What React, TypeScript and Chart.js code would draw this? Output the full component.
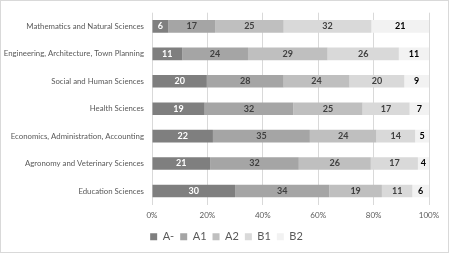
import React, { useEffect, useRef } from "react";
import { Chart, registerables } from "chart.js";

Chart.register(...registerables);

const categories = [
  "Mathematics and Natural Sciences",
  "Engineering, Architecture, Town Planning",
  "Social and Human Sciences",
  "Health Sciences",
  "Economics, Administration, Accounting",
  "Agronomy and Veterinary Sciences",
  "Education Sciences",
];
const seriesNames = ["A-", "A1", "A2", "B1", "B2"];
const aMinus = [6, 11, 20, 19, 22, 21, 30];
const a1 = [17, 24, 28, 32, 35, 32, 34];
const a2 = [25, 29, 24, 25, 24, 26, 19];
const b1 = [32, 26, 20, 17, 14, 17, 11];
const b2 = [21, 11, 9, 7, 5, 4, 6];
const xTicks = [0, 20, 40, 60, 80, 100];

const colors = ["#7f7f7f", "#a5a5a5", "#bfbfbf", "#d9d9d9", "#f2f2f2"];
const labelColors = ["#ffffff", "#404040", "#404040", "#404040", "#000000"];
const FONT = "Lato";

export default function App() {
  const ref = useRef<HTMLCanvasElement | null>(null);
  useEffect(() => {
    const raw = [aMinus, a1, a2, b1, b2];
    const totals = categories.map((_, i) => raw.reduce((s, arr) => s + arr[i], 0));
    const datasets = raw.map((arr, k) => ({
      label: seriesNames[k],
      data: arr.map((v, i) => (v / totals[i]) * 100),
      rawValues: arr,
      backgroundColor: colors[k],
      borderWidth: 0,
      categoryPercentage: 1,
      barPercentage: 0.46,
    }));

    const labelPlugin = {
      id: "valueLabels",
      afterDatasetsDraw(chart: any) {
        const ctx = chart.ctx;
        ctx.save();
        ctx.font = `bold 9px ${FONT}`;
        ctx.textAlign = "center";
        ctx.textBaseline = "middle";
        chart.data.datasets.forEach((ds: any, k: number) => {
          const meta = chart.getDatasetMeta(k);
          meta.data.forEach((el: any, i: number) => {
            const x = (el.x + el.base) / 2;
            ctx.fillStyle = labelColors[k];
            ctx.fillText(String(ds.rawValues[i]), x, el.y);
          });
        });
        ctx.restore();
      },
    };
    const framePlugin = {
      id: "frame",
      afterLayout(chart: any) {
        const lg = chart.legend;
        if (lg) {
          const right = lg.right;
          lg.left = 24;
          lg.width = right - 24;
        }
      },
      beforeDraw(chart: any) {
        const ctx = chart.ctx;
        ctx.save();
        ctx.fillStyle = "#ffffff";
        ctx.fillRect(0, 0, chart.width, chart.height);
        ctx.restore();
      },
      afterDraw(chart: any) {
        const ctx = chart.ctx;
        ctx.save();
        ctx.strokeStyle = "#d9d9d9";
        ctx.lineWidth = 1;
        ctx.strokeRect(0.5, 0.5, chart.width - 1, chart.height - 1);
        ctx.restore();
      },
    };

    const chart = new Chart(ref.current as HTMLCanvasElement, {
      type: "bar",
      data: { labels: categories, datasets: datasets as any },
      options: {
        indexAxis: "y",
        animation: false,
        responsive: false,
        layout: { padding: { top: 10.6, right: 20, bottom: 0.8, left: 0 } },
        scales: {
          x: {
            stacked: true,
            min: 0,
            max: 100,
            afterBuildTicks: (scale: any) => {
              scale.ticks = xTicks.map((v) => ({ value: v }));
            },
            afterFit: (scale: any) => {
              scale.height = 20.5;
            },
            grid: { color: "#d9d9d9", drawTicks: false },
            border: { display: false },
            ticks: {
              padding: 6,
              color: "#595959",
              font: { family: FONT, size: 8 },
              callback: (v: any) => v + "%",
            },
          },
          y: {
            stacked: true,
            afterFit: (scale: any) => {
              scale.width = 152;
            },
            grid: { display: false, drawTicks: false },
            border: { display: false },
            ticks: {
              padding: 8,
              color: "#595959",
              font: { family: FONT, size: 7.8 },
            },
          },
        },
        plugins: {
          legend: {
            position: "bottom",
            labels: {
              boxWidth: 7,
              boxHeight: 7,
              padding: 6,
              color: "#595959",
              font: { family: FONT, size: 11 },
            },
          },
          tooltip: { enabled: false },
        },
      } as any,
      plugins: [labelPlugin, framePlugin],
    });
    return () => chart.destroy();
  }, []);

  return (
    <div style={{ position: "absolute", left: 0, top: 0, width: 449, height: 253, overflow: "hidden" }}>
      <canvas ref={ref} width={449} height={253} style={{ display: "block" }} />
    </div>
  );
}
